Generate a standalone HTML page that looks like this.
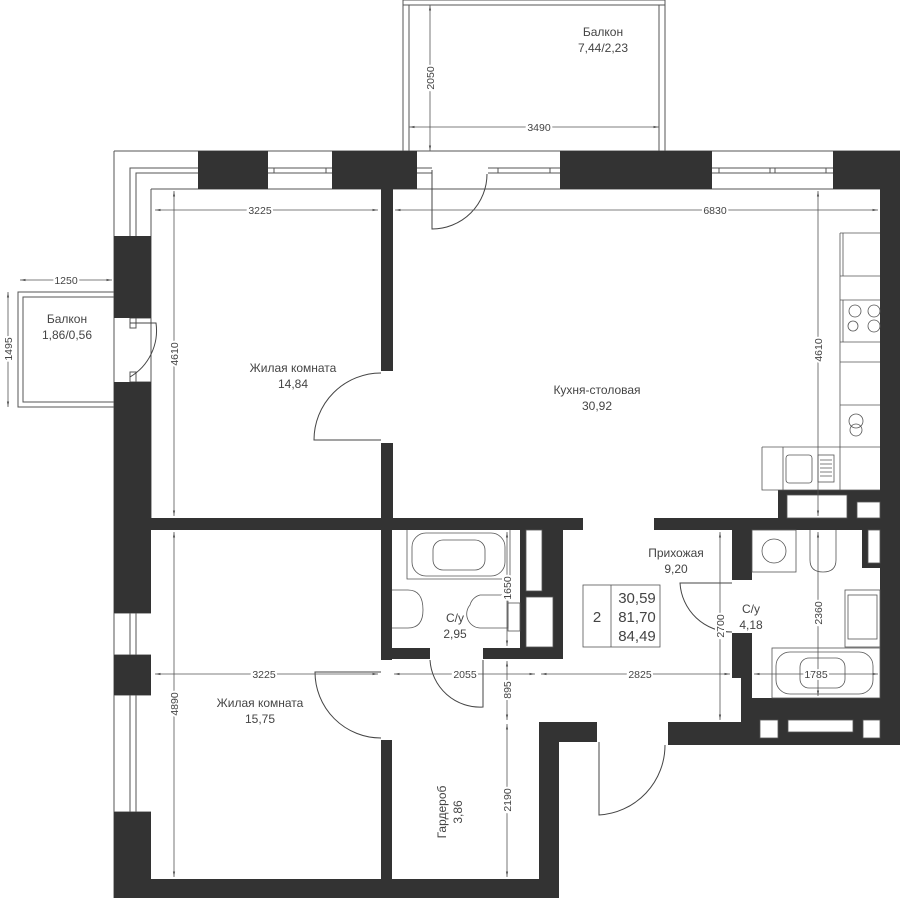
<!DOCTYPE html>
<html><head><meta charset="utf-8"><style>
html,body{margin:0;padding:0;background:#fff}
svg{display:block}
text{font-family:"Liberation Sans",sans-serif;fill:#444}
.l{font-size:12px}
.d{font-size:10.5px;fill:#555}
</style></head><body>
<svg width="900" height="898" viewBox="0 0 900 898" xmlns="http://www.w3.org/2000/svg">
<defs>
<marker id="a" viewBox="0 0 10 10" refX="10" refY="5" markerWidth="7" markerHeight="7" orient="auto-start-reverse"><path d="M0,3 L10,5 L0,7z" fill="#555"/></marker>
</defs>
<g fill="none" stroke="#555" stroke-width="1">
<path d="M403 151V0H665V151M409 151V5H659V151M403 5H665"/>
<path d="M114 292H18V407H114M114 297H23V402H114M23 297V402"/>
<path d="M114 151H900M151 189H900M114 151V898M151 189V518"/>
<path d="M130 236V168H198M136 236V173H198"/>
<path d="M268 168H332M268 173H332M274 168V173M326 168V173"/>
<path d="M417 168H432M417 173H432M488 168H560M488 173H560M498 168V173M550 168V173"/>
<path d="M712 168H833M712 173H833M719 168V173M770 168V173M775 168V173M826 168V173"/>
<path d="M130 318H151M130 382H151"/>
<path d="M130 318V328H136V318M130 382V372H136V382"/>
<path d="M130 613V655M136 613V655M130 695V812M136 695V812M114 613H151M114 655H151M114 695H151M114 812H151"/>
</g>
<g fill="#333">
<rect x="198" y="151" width="70" height="38"/>
<rect x="332" y="151" width="85" height="38"/>
<rect x="560" y="151" width="152" height="38"/>
<rect x="833" y="151" width="67" height="38"/>
<rect x="880" y="151" width="20" height="571"/>
<rect x="114" y="236" width="37" height="82"/>
<rect x="114" y="382" width="37" height="231"/>
<rect x="114" y="655" width="37" height="40"/>
<rect x="114" y="812" width="37" height="86"/>
<rect x="381" y="189" width="12" height="182"/>
<rect x="381" y="443" width="12" height="87"/>
<rect x="151" y="518" width="432" height="12"/>
<rect x="654" y="518" width="246" height="12"/>
<rect x="381" y="530" width="11" height="130"/>
<rect x="381" y="740" width="11" height="140"/>
<rect x="114" y="879" width="445" height="19"/>
<rect x="539" y="722" width="20" height="176"/>
<rect x="539" y="722" width="58" height="20"/>
<rect x="668" y="722" width="232" height="23"/>
<rect x="741" y="698" width="159" height="26"/>
<rect x="392" y="648" width="38" height="11"/>
<rect x="483" y="648" width="80" height="11"/>
<rect x="520" y="530" width="43" height="129"/>
<rect x="732" y="530" width="20" height="50"/>
<rect x="732" y="633" width="20" height="45"/>
<rect x="741" y="633" width="11" height="70"/>
<rect x="778" y="490" width="122" height="28"/>
<rect x="862" y="530" width="38" height="38"/>
</g>
<g fill="#fff" stroke="#555" stroke-width="0.8">
<rect x="526" y="530" width="16" height="61"/>
<rect x="526" y="597" width="27" height="50"/>
<rect x="787" y="495" width="60" height="23"/>
<rect x="857" y="502" width="23" height="16"/>
<rect x="868" y="530" width="12" height="33"/>
<rect x="760" y="720" width="18" height="18"/>
<rect x="788" y="720" width="65" height="12"/>
<rect x="863" y="720" width="17" height="18"/>
</g>
<g fill="none" stroke="#444" stroke-width="1">
<path d="M381 440H314A67 67 0 0 1 381 373"/>
<path d="M130 323H156A54 54 0 0 1 130 377"/>
<path d="M432 170V229A55 55 0 0 0 487 174"/>
<path d="M483 660V707A50 50 0 0 1 430 660"/>
<path d="M732 583H680A52 52 0 0 0 732 632"/>
<path d="M381 672H315A66 66 0 0 0 381 738"/>
<path d="M599 742V815A70 70 0 0 0 665 745"/>
</g>
<g fill="none" stroke="#555" stroke-width="0.8">
<path d="M840 233H880M840 233V490M843 233V276M840 276H880M840 300H880M840 342H880M843 300V342M840 362H880M840 405H880M840 447H880M762 447V490H880M762 447H840M783 447V490"/>
<circle cx="855" cy="311" r="6"/><circle cx="874" cy="311" r="6"/><circle cx="853" cy="326" r="5"/><circle cx="874" cy="326" r="6"/>
<circle cx="856" cy="421" r="7"/><circle cx="856" cy="430" r="6"/>
<rect x="786" y="455" width="26" height="28" rx="3"/>
<rect x="818" y="455" width="16" height="27"/>
<path d="M820 460H832M820 464H832M820 468H832M820 472H832M820 476H832"/>
<path d="M407 530V579H510V530"/>
<rect x="412" y="533" width="93" height="43" rx="14"/>
<rect x="433" y="540" width="52" height="30" rx="10"/>
<path d="M392 590H408Q423 590 423 610Q423 628 408 628H392"/>
<path d="M470 605A14 14 0 0 1 480 595H508V628H480A14 14 0 0 1 470 605Z"/>
<rect x="508" y="603" width="12" height="28"/>
<rect x="752" y="530" width="44" height="42"/>
<circle cx="774" cy="551" r="12"/>
<path d="M810 530V560Q810 572 823 572Q836 572 836 560V530"/>
<rect x="845" y="590" width="35" height="57"/>
<rect x="848" y="595" width="29" height="44"/>
<rect x="772" y="648" width="108" height="50"/>
<rect x="776" y="652" width="97" height="42" rx="14"/>
<rect x="800" y="658" width="45" height="30" rx="9"/>
</g>
<g stroke="#555" stroke-width="0.8" fill="none">
<line x1="430" y1="5" x2="430" y2="151" marker-start="url(#a)" marker-end="url(#a)"/>
<line x1="409" y1="127" x2="659" y2="127" marker-start="url(#a)" marker-end="url(#a)"/>
<line x1="155" y1="210" x2="378" y2="210" marker-start="url(#a)" marker-end="url(#a)"/>
<line x1="395" y1="210" x2="878" y2="210" marker-start="url(#a)" marker-end="url(#a)"/>
<line x1="20" y1="280" x2="112" y2="280" marker-start="url(#a)" marker-end="url(#a)"/>
<line x1="8" y1="292" x2="8" y2="407" marker-start="url(#a)" marker-end="url(#a)"/>
<line x1="174" y1="191" x2="174" y2="516" marker-start="url(#a)" marker-end="url(#a)"/>
<line x1="818" y1="191" x2="818" y2="516" marker-start="url(#a)" marker-end="url(#a)"/>
<line x1="174" y1="532" x2="174" y2="877" marker-start="url(#a)" marker-end="url(#a)"/>
<line x1="155" y1="674" x2="378" y2="674" marker-start="url(#a)" marker-end="url(#a)"/>
<line x1="394" y1="674" x2="535" y2="674" marker-start="url(#a)" marker-end="url(#a)"/>
<line x1="541" y1="674" x2="730" y2="674" marker-start="url(#a)" marker-end="url(#a)"/>
<line x1="754" y1="674" x2="878" y2="674" marker-start="url(#a)" marker-end="url(#a)"/>
<line x1="507" y1="532" x2="507" y2="646" marker-start="url(#a)" marker-end="url(#a)"/>
<line x1="507" y1="661" x2="507" y2="720" marker-start="url(#a)" marker-end="url(#a)"/>
<line x1="507" y1="724" x2="507" y2="877" marker-start="url(#a)" marker-end="url(#a)"/>
<line x1="720" y1="532" x2="720" y2="720" marker-start="url(#a)" marker-end="url(#a)"/>
<line x1="818" y1="532" x2="818" y2="696" marker-start="url(#a)" marker-end="url(#a)"/>
</g>
<g fill="#fff" stroke="#555" stroke-width="0.8"><rect x="583" y="585" width="77" height="62"/><line x1="611" y1="585" x2="611" y2="647"/></g>
<g text-anchor="middle">
<text x="597" y="622" style="font-size:15px">2</text>
<text x="637" y="603" style="font-size:15px">30,59</text>
<text x="637" y="622" style="font-size:15px">81,70</text>
<text x="637" y="641" style="font-size:15px">84,49</text>
</g>
<g class="d" text-anchor="middle" style="paint-order:stroke;stroke:#fff;stroke-width:4">
<text x="539" y="131">3490</text>
<text x="260" y="214">3225</text>
<text x="715" y="214">6830</text>
<text x="66" y="284">1250</text>
<text x="264" y="678">3225</text>
<text x="465" y="678">2055</text>
<text x="640" y="678">2825</text>
<text x="816" y="678">1785</text>
<text transform="translate(434,78) rotate(-90)">2050</text>
<text transform="translate(12,349) rotate(-90)">1495</text>
<text transform="translate(178,354) rotate(-90)">4610</text>
<text transform="translate(822,350) rotate(-90)">4610</text>
<text transform="translate(178,704) rotate(-90)">4890</text>
<text transform="translate(511,588) rotate(-90)">1650</text>
<text transform="translate(511,690) rotate(-90)">895</text>
<text transform="translate(511,800) rotate(-90)">2190</text>
<text transform="translate(724,626) rotate(-90)">2700</text>
<text transform="translate(822,613) rotate(-90)">2360</text>
</g>
<g class="l" text-anchor="middle">
<text x="603" y="36">Балкон</text><text x="603" y="52">7,44/2,23</text>
<text x="67" y="323">Балкон</text><text x="67" y="339">1,86/0,56</text>
<text x="293" y="372">Жилая комната</text><text x="293" y="388">14,84</text>
<text x="597" y="394">Кухня-столовая</text><text x="597" y="410">30,92</text>
<text x="260" y="707">Жилая комната</text><text x="260" y="723">15,75</text>
<text x="455" y="622">С/у</text><text x="455" y="638">2,95</text>
<text x="676" y="557">Прихожая</text><text x="676" y="573">9,20</text>
<text x="751" y="613">С/у</text><text x="751" y="629">4,18</text>
<text transform="translate(446,812) rotate(-90)">Гардероб</text>
<text transform="translate(462,812) rotate(-90)">3,86</text>
</g>
</svg>
</body></html>
